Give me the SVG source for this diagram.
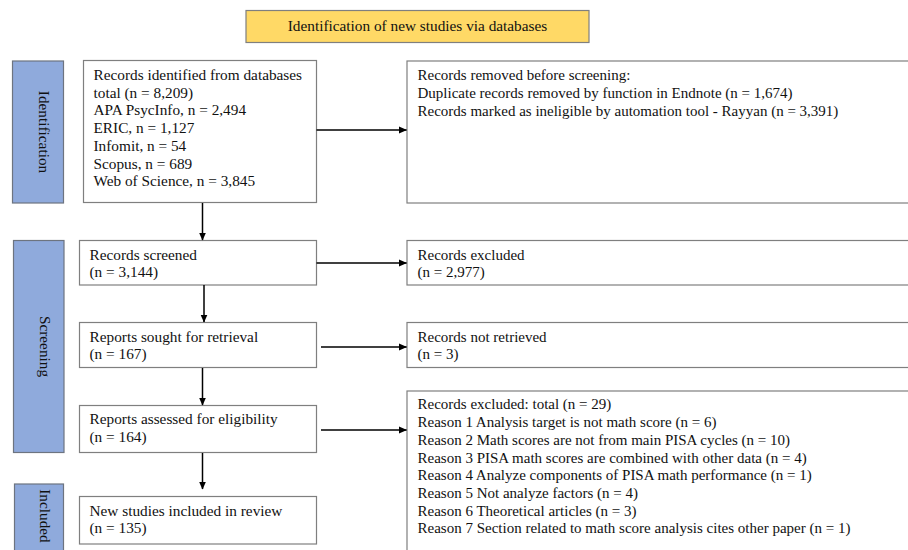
<svg xmlns="http://www.w3.org/2000/svg" width="908" height="550" viewBox="0 0 908 550">
<defs>
<marker id="ah" markerWidth="8" markerHeight="8" refX="7.5" refY="4" orient="auto" markerUnits="userSpaceOnUse">
<path d="M0,0.5 L8,4 L0,7.5 Z" fill="#000"/>
</marker>
<style>
.box{fill:#fff;stroke:#7f7f7f;stroke-width:1.2}
.bar{fill:#8FAADC;stroke:#6d7480;stroke-width:1.2}
.hdr{fill:#FFD966;stroke:#7f7f7f;stroke-width:1.2}
.t{font-family:"Liberation Serif","Times New Roman",serif;font-size:15.3px;fill:#111}
.tr{font-family:"Liberation Serif","Times New Roman",serif;font-size:15px;fill:#111}
.lab{font-family:"Liberation Serif","Times New Roman",serif;font-size:15.3px;fill:#111;text-anchor:middle}
.c{stroke:#000;stroke-width:1.5;fill:none;marker-end:url(#ah)}
</style>
</defs>
<rect width="908" height="550" fill="#fff"/>

<g id="header">
<rect class="hdr" x="246" y="10.5" width="343" height="32"/>
<text class="lab" x="417.5" y="31">Identification of new studies via databases</text>
</g>

<g id="phase-identification">
<rect class="bar" x="12.5" y="61" width="51" height="142"/>
<text class="lab" transform="translate(38.5,132) rotate(90)">Identification</text>
</g>
<g id="phase-screening">
<rect class="bar" x="13.5" y="240.5" width="50.5" height="212"/>
<text class="lab" transform="translate(40,346.5) rotate(90)">Screening</text>
</g>
<g id="phase-included">
<rect class="bar" x="14.5" y="484" width="49" height="80"/>
<text class="lab" transform="translate(39.5,516) rotate(90)">Included</text>
</g>

<g id="records-identified">
<rect class="box" x="83.5" y="60.5" width="233" height="142"/>
<text class="t" x="93.5" y="80">Records identified from databases</text>
<text class="t" x="93.5" y="97.7">total (n = 8,209)</text>
<text class="t" x="93.5" y="115.4">APA PsycInfo, n = 2,494</text>
<text class="t" x="93.5" y="133.1">ERIC, n = 1,127</text>
<text class="t" x="93.5" y="150.8">Infomit, n = 54</text>
<text class="t" x="93.5" y="168.5">Scopus, n = 689</text>
<text class="t" x="93.5" y="186.2">Web of Science, n = 3,845</text>
</g>

<g id="records-removed">
<rect class="box" x="407" y="61" width="515" height="142"/>
<text class="tr" x="417.5" y="80">Records removed before screening:</text>
<text class="tr" x="417.5" y="98">Duplicate records removed by function in Endnote (n = 1,674)</text>
<text class="tr" x="417.5" y="116">Records marked as ineligible by automation tool - Rayyan (n = 3,391)</text>
</g>

<g id="records-screened">
<rect class="box" x="79.5" y="240.5" width="237" height="44.5"/>
<text class="t" x="89.5" y="259.5">Records screened</text>
<text class="t" x="89.5" y="277.3">(n = 3,144)</text>
</g>

<g id="records-excluded">
<rect class="box" x="407" y="240.5" width="515" height="44.5"/>
<text class="tr" x="417.5" y="259.5">Records excluded</text>
<text class="tr" x="417.5" y="277.3">(n = 2,977)</text>
</g>

<g id="reports-sought">
<rect class="box" x="79.5" y="322.5" width="237" height="45"/>
<text class="t" x="89.5" y="341.7">Reports sought for retrieval</text>
<text class="t" x="89.5" y="359.4">(n = 167)</text>
</g>

<g id="records-not-retrieved">
<rect class="box" x="407" y="322.5" width="515" height="45"/>
<text class="tr" x="417.5" y="341.7">Records not retrieved</text>
<text class="tr" x="417.5" y="359.4">(n = 3)</text>
</g>

<g id="reports-assessed">
<rect class="box" x="79.5" y="405.5" width="237" height="47"/>
<text class="t" x="89.5" y="424.4">Reports assessed for eligibility</text>
<text class="t" x="89.5" y="442.1">(n = 164)</text>
</g>

<g id="records-excluded-total">
<rect class="box" x="407" y="391" width="515" height="180"/>
<text class="tr" x="417.5" y="409.4">Records excluded: total (n = 29)</text>
<text class="tr" x="417.5" y="427.1">Reason 1 Analysis target is not math score (n = 6)</text>
<text class="tr" x="417.5" y="444.8">Reason 2 Math scores are not from main PISA cycles (n = 10)</text>
<text class="tr" x="417.5" y="462.5">Reason 3 PISA math scores are combined with other data (n = 4)</text>
<text class="tr" x="417.5" y="480.2">Reason 4 Analyze components of PISA math performance (n = 1)</text>
<text class="tr" x="417.5" y="497.9">Reason 5 Not analyze factors (n = 4)</text>
<text class="tr" x="417.5" y="515.6">Reason 6 Theoretical articles (n = 3)</text>
<text class="tr" x="417.5" y="533.3">Reason 7 Section related to math score analysis cites other paper (n = 1)</text>
</g>

<g id="new-studies-included">
<rect class="box" x="79.5" y="496.5" width="237" height="47.5"/>
<text class="t" x="89.5" y="515.7">New studies included in review</text>
<text class="t" x="89.5" y="533.4">(n = 135)</text>
</g>

<g id="connectors">
<line class="c" x1="316.5" y1="130" x2="406.5" y2="130"/>
<line class="c" x1="202.5" y1="203" x2="202.5" y2="240"/>
<line class="c" x1="316.5" y1="263" x2="406.5" y2="263"/>
<line class="c" x1="204" y1="285" x2="204" y2="322"/>
<line class="c" x1="321" y1="347" x2="406.5" y2="347"/>
<line class="c" x1="202.5" y1="368" x2="202.5" y2="405"/>
<line class="c" x1="321" y1="430" x2="406.5" y2="430"/>
<line class="c" x1="202.5" y1="453" x2="202.5" y2="489"/>
</g>
</svg>
